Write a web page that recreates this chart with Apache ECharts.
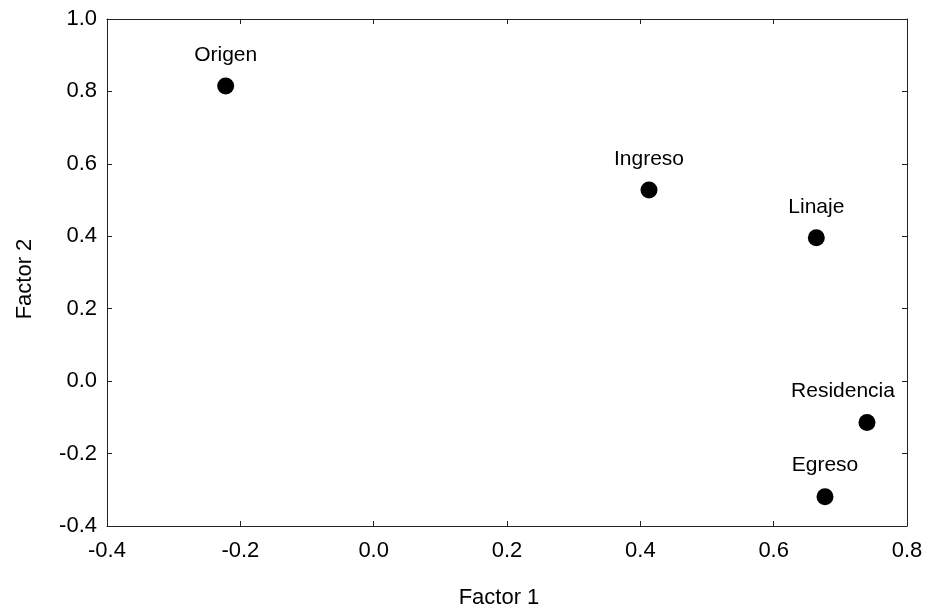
<!DOCTYPE html>
<html>
<head>
<meta charset="utf-8">
<script src="https://cdn.jsdelivr.net/npm/echarts@6/dist/echarts.min.js"></script>
<style>html,body{margin:0;padding:0;background:#fff}#c{width:929px;height:615px}</style>
</head>
<body>
<div id="c"></div>
<script>
const names = ["Origen", "Ingreso", "Linaje", "Residencia", "Egreso"];
const factor1 = [-0.222, 0.413, 0.664, 0.740, 0.677];
const factor2 = [0.815, 0.528, 0.396, -0.114, -0.319];
const xTicks = [-0.4, -0.2, 0.0, 0.2, 0.4, 0.6, 0.8];
const yTicks = [-0.4, -0.2, 0.0, 0.2, 0.4, 0.6, 0.8, 1.0];

const FONT = 'Liberation Sans, Arial, sans-serif';
const chart = echarts.init(document.getElementById('c'), null, {renderer: 'canvas'});
const lineStyle = {color: '#222', width: 1};
const baseAxis = {
  type: 'value',
  splitLine: {show: false},
  axisLine: {show: true, onZero: false, lineStyle},
  axisTick: {show: true, inside: true, length: 5, lineStyle}
};
const data = names.map((n, i) => {
  const d = {name: n, value: [factor1[i], factor2[i]]};
  if (n === 'Residencia') d.label = {offset: [-24, 0]};
  return d;
});
chart.setOption({
  animation: false,
  grid: {left: 107, top: 19, right: 22, bottom: 89, containLabel: false},
  xAxis: [
    Object.assign({}, baseAxis, {
      min: xTicks[0], max: xTicks[xTicks.length - 1], interval: 0.2, position: 'bottom',
      axisLabel: {fontFamily: FONT, fontSize: 22, color: '#000', margin: 14,
        formatter: v => v.toFixed(1)}
    }),
    Object.assign({}, baseAxis, {
      min: xTicks[0], max: xTicks[xTicks.length - 1], interval: 0.2, position: 'top',
      axisLabel: {show: false}
    })
  ],
  yAxis: [
    Object.assign({}, baseAxis, {
      min: yTicks[0], max: yTicks[yTicks.length - 1], interval: 0.2, position: 'left',
      axisLabel: {fontFamily: FONT, fontSize: 22, color: '#000', margin: 10,
        formatter: v => v.toFixed(1)}
    }),
    Object.assign({}, baseAxis, {
      min: yTicks[0], max: yTicks[yTicks.length - 1], interval: 0.2, position: 'right',
      axisLabel: {show: false}
    })
  ],
  graphic: [
    {type: 'text', x: 499, y: 598, style: {text: 'Factor 1', font: '22px ' + FONT, fill: '#000', textAlign: 'center', textVerticalAlign: 'middle'}},
    {type: 'text', x: 25, y: 279, rotation: Math.PI / 2, style: {text: 'Factor 2', font: '22px ' + FONT, fill: '#000', textAlign: 'center', textVerticalAlign: 'middle'}}
  ],
  series: [{
    type: 'scatter',
    symbol: 'circle',
    symbolSize: 17,
    itemStyle: {color: '#000', opacity: 1},
    emphasis: {disabled: true},
    label: {show: true, position: 'top', distance: 12, formatter: '{b}',
      fontFamily: FONT, fontSize: 21, color: '#000', opacity: 1},
    data: data
  }]
});
</script>
</body>
</html>
